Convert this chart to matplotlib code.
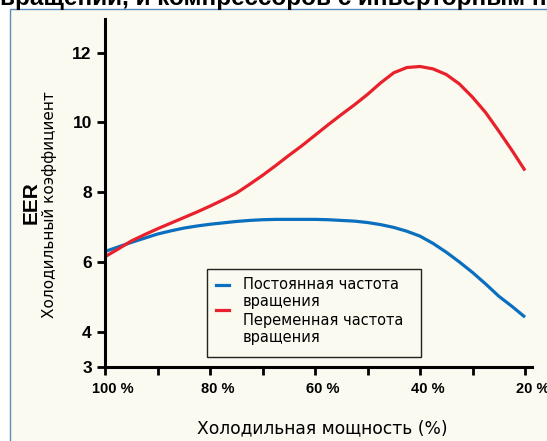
import numpy as np
import matplotlib
matplotlib.use("Agg")
import matplotlib.pyplot as plt
from matplotlib.patches import Rectangle
from matplotlib.lines import Line2D
from matplotlib.transforms import ScaledTranslation

# --- data (load in %, EER) ---
load_pct = [100, 97.5, 95, 92.5, 90, 87.5, 85, 82.5, 80, 77.5, 75, 72.5, 70, 67.5,
            65, 62.5, 60, 57.5, 55, 52.5, 50, 47.5, 45, 42.5, 40, 37.5, 35, 32.5,
            30, 27.5, 25, 22.5, 20]
eer_fixed = [6.30, 6.43, 6.56, 6.68, 6.80, 6.89, 6.97, 7.03, 7.08, 7.12, 7.16, 7.19,
             7.21, 7.22, 7.22, 7.22, 7.22, 7.21, 7.19, 7.17, 7.13, 7.07, 6.99, 6.88,
             6.74, 6.53, 6.28, 6.00, 5.70, 5.37, 5.02, 4.73, 4.42]
eer_inverter = [6.15, 6.37, 6.60, 6.78, 6.95, 7.11, 7.27, 7.43, 7.60, 7.78, 7.97, 8.22,
                8.48, 8.76, 9.05, 9.33, 9.63, 9.93, 10.22, 10.50, 10.80, 11.13, 11.42,
                11.57, 11.60, 11.53, 11.37, 11.10, 10.72, 10.28, 9.75, 9.20, 8.62]

xticks_all = [100, 90, 80, 70, 60, 50, 40, 30, 20]
xticks_labeled = [100, 80, 60, 40, 20]
xtick_labels = ["100 %", "80 %", "60 %", "40 %", "20 %"]
yticks = [3, 4, 6, 8, 10, 12]

legend_labels = ["Постоянная частота\nвращения", "Переменная частота\nвращения"]
xlabel = "Холодильная мощность (%)"
ylabel_main = "EER"
ylabel_sub = "Холодильный коэффициент"
header = "вращении, и компрессоров с инверторным приводом"

blue = "#0b6fbf"
red = "#e8212c"
cream = "#fafaf0"

W, H = 547, 441
fig = plt.figure(figsize=(W / 100, H / 100), dpi=100)
fig.patch.set_facecolor("white")

# panel with blue frame
fig.patches.append(Rectangle((10 / W, -0.01), 1.0, (H - 9) / H + 0.01,
                             transform=fig.transFigure, facecolor=cream,
                             edgecolor="#5a8cc0", linewidth=1.0, zorder=-10))
fig.text(0.0, 1 - 5 / H, header, fontsize=17.5, fontweight="bold",
         family="Liberation Sans", va="baseline", ha="left", color="black")

ax = fig.add_axes([105 / W, 74.3 / H, 427 / W, 347.7 / H])
ax.set_facecolor("none")

ax.plot(load_pct, eer_fixed, color=blue, lw=2.3, solid_capstyle="butt",
        solid_joinstyle="round")
ax.plot(load_pct, eer_inverter, color=red, lw=2.3, solid_capstyle="butt",
        solid_joinstyle="round")

ax.set_xlim(100, 18.67)
ax.set_ylim(3, 12.96)

for s in ["top", "right"]:
    ax.spines[s].set_visible(False)
for s in ["left", "bottom"]:
    ax.spines[s].set_linewidth(2.2)
    ax.spines[s].set_color("black")

ax.set_yticks(yticks)
ax.set_yticklabels([str(v) for v in yticks], fontsize=12.5, fontweight="bold",
                   family="Liberation Sans")
ax.tick_params(axis="y", direction="out", length=5.5, width=2, pad=4)

ax.set_xticks(xticks_all)
ax.set_xticklabels([xtick_labels[xticks_labeled.index(v)] if v in xticks_labeled else ""
                    for v in xticks_all], fontsize=10.5, fontweight="bold",
                   family="Liberation Sans")
ax.tick_params(axis="x", direction="out", length=5.5, width=2, pad=5.5)
offset = ScaledTranslation(8 / 100, 0, fig.dpi_scale_trans)
for lbl in ax.get_xticklabels():
    lbl.set_transform(lbl.get_transform() + offset)

fig.text(322 / W, 1 - 428 / H, xlabel, fontsize=12.3, ha="center", va="center")
fig.text(31 / W, 1 - 203 / H, ylabel_main, fontsize=15, fontweight="bold",
         family="Liberation Sans", rotation=90, ha="center", va="center")
fig.text(50 / W, 1 - 205 / H, ylabel_sub, fontsize=11,
         rotation=90, ha="center", va="center")


# legend box drawn by hand to match the reference layout
def px(x, y):
    return (x - 105) / 427, (366.7 - y) / 347.7


x0, y0 = px(207, 357)
x1, y1 = px(421, 269)
ax.add_patch(Rectangle((x0, y0), x1 - x0, y1 - y0, transform=ax.transAxes,
                       facecolor=cream, edgecolor="#222222", linewidth=1.0,
                       zorder=5))
for label, color, ty, hy in [(legend_labels[0], blue, 277, 285),
                             (legend_labels[1], red, 313, 310)]:
    hx0, hy0 = px(216, hy)
    hx1, _ = px(229, hy)
    ax.add_line(Line2D([hx0, hx1], [hy0, hy0], transform=ax.transAxes,
                       color=color, lw=2.3, zorder=6))
    tx, tyy = px(243, ty)
    ax.text(tx, tyy, label, transform=ax.transAxes, fontsize=10.5,
            va="top", ha="left", linespacing=1.15, zorder=6)

fig.savefig("out.png", dpi=100, facecolor=fig.get_facecolor())
